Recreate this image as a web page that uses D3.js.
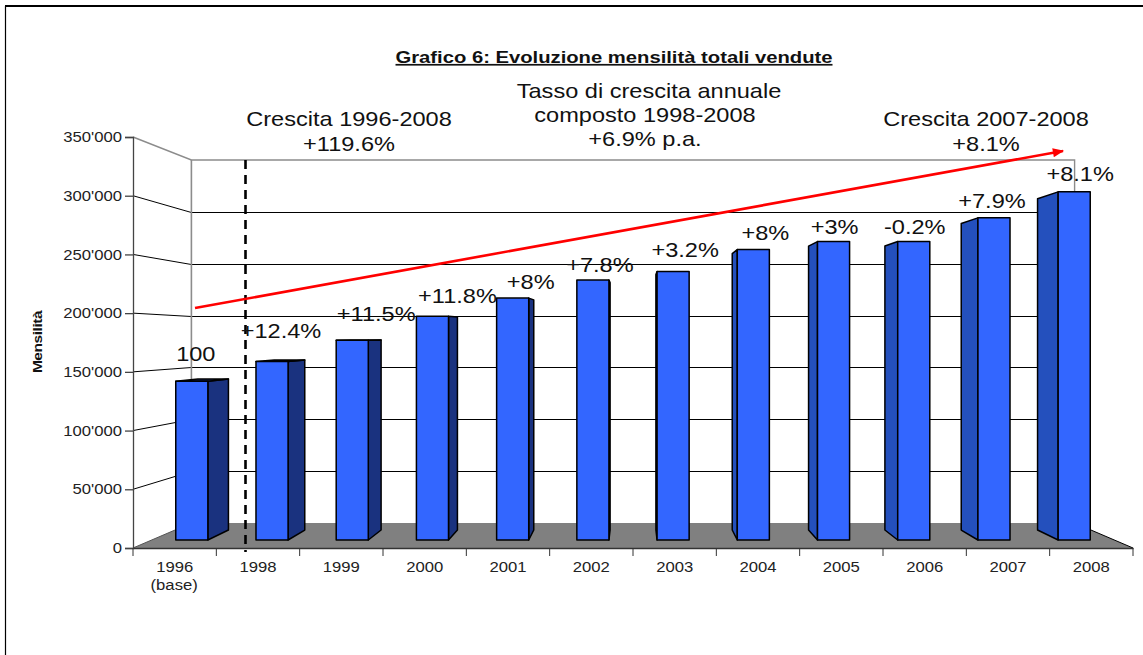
<!DOCTYPE html>
<html><head><meta charset="utf-8">
<script src="https://cdn.jsdelivr.net/npm/d3@7/dist/d3.min.js"></script>
<style>html,body{margin:0;background:#fff}svg{display:block}text{font-family:"Liberation Sans",Arial,sans-serif;fill:#111}</style>
</head><body><svg id="c" width="1143" height="655"></svg>
<script>
const categories=["1996","1998","1999","2000","2001","2002","2003","2004","2005","2006","2007","2008"];
const subLabels=["(base)","","","","","","","","","","",""];
const values=[140500,158000,176700,198000,214000,230000,237600,257000,264000,264000,285000,308000];
const growthLabels=["100","+12.4%","+11.5%","+11.8%","+8%","+7.8%","+3.2%","+8%","+3%","-0.2%","+7.9%","+8.1%"];
const yTicks=[0,50000,100000,150000,200000,250000,300000,350000];
const labelNudgeX=[4,9,24,25,18,7,12,12,1,1,-2,6];
const labelNudgeY=[27,31,26,20,16,15,22,17,15,15,17,18];

const svg=d3.select("#c");
const W=1143,H=655,STRETCH=1.15;
const xBar=d3.scaleBand().domain(categories).range([133,1133]).paddingInner(0.6).paddingOuter(0.3);
const xSlot=d3.scaleBand().domain(categories).range([133,1133]);
const yVal=d3.scaleLinear().domain([0,350000]).range([548,137]);
// perspective projection toward a vanishing point
const vx=633,vy=334,sBack=0.8832,sBarF=0.9626,sBarB=0.916;
const P=(X,Y,s)=>[vx+(X-vx)*s,vy+(Y-vy)*s];
const lineGen=d3.line();
const poly=pts=>lineGen(pts)+"Z";
const wideText=(sel,tx,ty,k=STRETCH)=>sel.attr("transform",`translate(${tx},${ty}) scale(${k},1)`);

// frame
svg.append("path").attr("d",`M5.5,${H}V6`).attr("fill","none").attr("stroke","#000").attr("stroke-width",1.2);
svg.append("path").attr("d",`M5,6H${W}`).attr("fill","none").attr("stroke","#000").attr("stroke-width",2);

// floor
const x0=133,x1=1133;
svg.append("path").attr("d",poly([P(x0,yVal(0),1),P(x0,yVal(0),sBack),P(x1,yVal(0),sBack),P(x1,yVal(0),1)])).attr("fill","#808080");
svg.append("path").attr("d",lineGen([P(x1,yVal(0),sBack),P(x1,yVal(0),1)])).attr("stroke","#000").attr("fill","none");
svg.append("path").attr("d",lineGen([P(x0,yVal(0),1),P(x0,yVal(0),sBack)])).attr("stroke","#555").attr("fill","none");

// walls
const topV=350000;
const wall=svg.append("g");
yTicks.slice(1,-1).forEach(v=>{
  const back=P(x0,yVal(v),sBack), end=P(x1,yVal(v),sBack), rowY=Math.round(back[1])+0.5;
  wall.append("path").attr("d",lineGen([P(x0,yVal(v),1),[back[0],rowY]])).attr("fill","none").attr("stroke","#000").attr("stroke-width",1);
  wall.append("path").attr("d",lineGen([[back[0],rowY],[end[0],rowY]])).attr("fill","none").attr("stroke","#000").attr("stroke-width",1);
});
wall.append("path").attr("d",lineGen([P(x0,yVal(topV),1),P(x0,yVal(topV),sBack),P(x1,yVal(topV),sBack),P(x1,yVal(0),sBack)])).attr("fill","none").attr("stroke","#8c8c8c").attr("stroke-width",1.4);
wall.append("path").attr("d",lineGen([P(x0,yVal(topV),sBack),P(x0,yVal(0),sBack)])).attr("fill","none").attr("stroke","#8c8c8c").attr("stroke-width",1.6);

// bars
const bars=svg.append("g").attr("stroke","#000").attr("stroke-width",1.5).attr("stroke-linejoin","round");
categories.forEach((c,i)=>{
  const a=xBar(c),b=a+xBar.bandwidth(),t=yVal(values[i]),g=yVal(0);
  const g2=bars.append("g");
  const cx=(a+b)/2;
  if(cx<vx){
    g2.append("path").attr("d",poly([P(b,t,sBarF),P(b,t,sBarB),P(b,g,sBarB),P(b,g,sBarF)])).attr("fill","#1a327f");
  }else{
    g2.append("path").attr("d",poly([P(a,t,sBarF),P(a,t,sBarB),P(a,g,sBarB),P(a,g,sBarF)])).attr("fill","#2450bd");
  }
  if(t>vy){
    g2.append("path").attr("d",poly([P(a,t,sBarF),P(a,t,sBarB),P(b,t,sBarB),P(b,t,sBarF)])).attr("fill","#14286a");
  }
  const f0=P(a,t,sBarF),f1=P(b,g,sBarF);
  g2.append("rect").attr("x",f0[0]).attr("y",f0[1]).attr("width",f1[0]-f0[0]).attr("height",f1[1]-f0[1]).attr("fill","#3366ff");
});

// axes
const fmt=d3.formatLocale({decimal:".",thousands:"'",grouping:[3],currency:["",""]}).format(",");
const ya=svg.append("g").attr("transform","translate(133,0)").call(d3.axisLeft(yVal).tickValues(yTicks).tickFormat(fmt).tickSize(8).tickPadding(3));
ya.selectAll("text").attr("font-size",14.5).style("fill","#222").style("font-family",'"Liberation Sans",Arial,sans-serif')
  .attr("x",-11/STRETCH).attr("transform",`scale(${STRETCH},1)`);
ya.selectAll("line,path").attr("stroke","#444").attr("stroke-width",1.3);
const xa=svg.append("g").attr("transform","translate(0,548)").call(d3.axisBottom(xSlot).tickSize(0).tickPadding(14));
xa.selectAll("text").attr("font-size",14.5).style("fill","#222").style("font-family",'"Liberation Sans",Arial,sans-serif')
  .attr("dy","0.7em").attr("transform",`scale(${STRETCH},1)`);
xa.select("path").attr("stroke","#333").attr("stroke-width",1.6);
xSlot.domain().concat(["end"]).forEach((c,i)=>{
  const X=133+xSlot.bandwidth()*i;
  xa.append("line").attr("x1",X).attr("x2",X).attr("y1",0).attr("y2",8).attr("stroke","#333").attr("stroke-width",1);
});
categories.forEach((c,i)=>{
  if(subLabels[i]) svg.append("text").call(wideText,xSlot(c)+xSlot.bandwidth()/2-0.5,590).attr("text-anchor","middle").attr("font-size",14.5).style("fill","#222").text(subLabels[i]);
});

// dashed separator
svg.append("line").attr("x1",245.5).attr("x2",245.5).attr("y1",160).attr("y2",552).attr("stroke","#000").attr("stroke-width",2.6).attr("stroke-dasharray","9 6");

// red arrow
svg.append("defs").append("marker").attr("id","arr").attr("viewBox","0 0 10 8").attr("refX",9).attr("refY",4).attr("markerUnits","userSpaceOnUse").attr("markerWidth",12).attr("markerHeight",9).attr("orient","auto")
  .append("path").attr("d","M0,0L10,4L0,8Z").attr("fill","#ff0000");
svg.append("line").attr("x1",195).attr("y1",308).attr("x2",1063).attr("y2",151).attr("stroke","#ff0000").attr("stroke-width",2.6).attr("marker-end","url(#arr)");

// growth labels
categories.forEach((c,i)=>{
  const a=xBar(c),b=a+xBar.bandwidth();
  const fx=P((a+b)/2,yVal(values[i]),sBarF);
  svg.append("text").call(wideText,fx[0]+labelNudgeX[i],fx[1]-labelNudgeY[i]).attr("dy","0.35em").attr("text-anchor","middle").attr("font-size",20.5).text(growthLabels[i]);
});

// title and notes
svg.append("text").call(wideText,614,63,1.19).attr("text-anchor","middle").attr("font-size",17).attr("font-weight","bold").attr("text-decoration","underline").text("Grafico 6: Evoluzione mensilità totali vendute");
[["Crescita 1996-2008",349,126],["+119.6%",349,151],["Tasso di crescita annuale",649,98],["composto 1998-2008",645,122],["+6.9% p.a.",645,146],["Crescita 2007-2008",986,126],["+8.1%",986,151]].forEach(d=>{
  svg.append("text").call(wideText,d[1],d[2]).attr("text-anchor","middle").attr("font-size",20.5).text(d[0]);
});
svg.append("text").attr("transform","translate(42,342) rotate(-90) scale(1.15,1)").attr("text-anchor","middle").attr("font-size",13.5).attr("font-weight","bold").attr("letter-spacing",-0.4).text("Mensilità");
</script></body></html>
